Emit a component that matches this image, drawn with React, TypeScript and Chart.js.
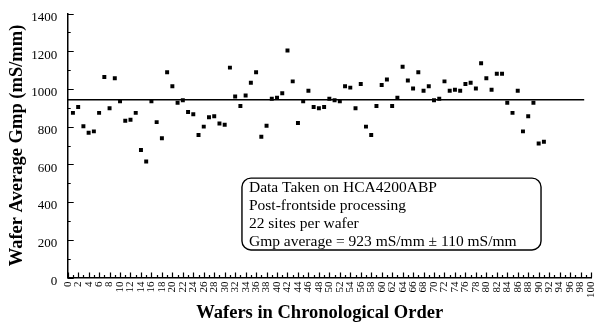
import React, { useEffect, useRef } from "react";
import { Chart, registerables } from "chart.js";

Chart.register(...registerables);

// Wafer numbers (chronological order)
const wafers = [
  1, 2, 3, 4, 5, 6, 7, 8, 9, 10, 11, 12, 13, 14, 15, 16, 17, 18, 19, 20,
  21, 22, 23, 24, 25, 26, 27, 28, 29, 30, 31, 32, 33, 34, 35, 36, 37, 38, 39, 40,
  41, 42, 43, 44, 45, 46, 47, 48, 49, 50, 51, 52, 53, 54, 55, 56, 57, 58, 59, 60,
  61, 62, 63, 64, 65, 66, 67, 68, 69, 70, 71, 72, 73, 74, 75, 76, 77, 78, 79, 80,
  81, 82, 83, 84, 85, 86, 87, 88, 89, 90, 91,
];

// Wafer average Gmp (mS/mm)
const gmp = [
  873, 904, 802, 768, 775, 873, 1063, 897, 1057, 934,
  831, 836, 873, 676, 615, 934, 824, 739, 1089, 1014,
  927, 940, 878, 866, 756, 800, 850, 855, 817, 810,
  1113, 960, 909, 965, 1033, 1089, 746, 805, 948, 953,
  977, 1204, 1040, 819, 934, 990, 904, 897, 904, 948,
  940, 934, 1014, 1007, 897, 1026, 800, 756, 909, 1021,
  1050, 909, 953, 1118, 1045, 1002, 1089, 990, 1014, 940,
  948, 1040, 990, 996, 990, 1026, 1033, 1002, 1136, 1057,
  996, 1081, 1081, 927, 873, 990, 775, 855, 927, 711,
  720,
];

// Average line
const meanLineX = [0, 98.7];
const meanGmp = 942;

const xMin = 0;
const xMax = 100;
const yMin = 0;
const yMax = 1400;
const yStep = 200;

const xTitle = "Wafers in Chronological Order";
const yTitle = "Wafer Average Gmp (mS/mm)";

const noteLines = [
  "Data Taken on HCA4200ABP",
  "Post-frontside processing",
  "22 sites per wafer",
  "Gmp average = 923 mS/mm \u00B1 110 mS/mm",
];
// annotation box extent in data coordinates
const noteBoxX = [33.3, 90.45];
const noteBoxY = [527, 146];

const FONT = "'Liberation Serif', 'Times New Roman', Times, serif";

export default function App() {
  const ref = useRef<HTMLCanvasElement>(null);

  useEffect(() => {
    document.body.style.margin = "0";
    const canvas = ref.current;
    if (!canvas) return;

    const decorPlugin = {
      id: "decor",
      afterDraw(chart: any) {
        const ctx = chart.ctx as CanvasRenderingContext2D;
        const xs = chart.scales.x;
        const ys = chart.scales.y;
        const area = chart.chartArea;
        ctx.save();
        ctx.strokeStyle = "#000";
        ctx.lineWidth = 1.2;
        ctx.beginPath();
        for (let v = xMin; v <= xMax; v++) {
          const px = Math.round(xs.getPixelForValue(v)) + 0.5;
          const len = v % 2 === 0 ? 5 : 2.5;
          ctx.moveTo(px, area.bottom);
          ctx.lineTo(px, area.bottom - len);
        }
        for (let v = yMin; v <= yMax; v += yStep / 2) {
          const py = Math.round(ys.getPixelForValue(v)) + 0.5;
          const len = v % yStep === 0 ? 6 : 3;
          ctx.moveTo(area.left, py);
          ctx.lineTo(area.left + len, py);
        }
        ctx.stroke();

        // annotation box
        const bx0 = xs.getPixelForValue(noteBoxX[0]);
        const bx1 = xs.getPixelForValue(noteBoxX[1]);
        const by0 = ys.getPixelForValue(noteBoxY[0]);
        const by1 = ys.getPixelForValue(noteBoxY[1]);
        ctx.lineWidth = 1.4;
        ctx.beginPath();
        (ctx as any).roundRect(bx0, by0, bx1 - bx0, by1 - by0, 9);
        ctx.stroke();
        ctx.fillStyle = "#000";
        ctx.font = `15.5px ${FONT}`;
        ctx.textAlign = "left";
        ctx.textBaseline = "alphabetic";
        noteLines.forEach((t, i) => {
          ctx.fillText(t, bx0 + 7, by0 + 13.7 + i * 18);
        });

        // x title
        ctx.font = `bold 18.5px ${FONT}`;
        ctx.textAlign = "center";
        ctx.textBaseline = "middle";
        ctx.fillText(xTitle, area.left + (area.right - area.left) * 0.4816, 313);
        ctx.restore();
      },
    };

    const chart = new Chart(canvas, {
      type: "scatter",
      data: {
        datasets: [
          {
            type: "scatter",
            data: wafers.map((w, i) => ({ x: w, y: gmp[i] })),
            pointStyle: "rect",
            pointRadius: 2.8,
            pointBorderWidth: 0,
            borderWidth: 0,
            backgroundColor: "#000",
            borderColor: "#000",
          } as any,
          {
            type: "line",
            data: meanLineX.map((x) => ({ x, y: meanGmp })),
            borderColor: "#000",
            borderWidth: 1.5,
            pointRadius: 0,
            fill: false,
          } as any,
        ],
      },
      options: {
        responsive: false,
        animation: false,
        events: [],
        layout: { padding: { top: 13.5, right: 4, left: 0, bottom: 0 } },
        plugins: {
          legend: { display: false },
          tooltip: { enabled: false },
        },
        scales: {
          x: {
            type: "linear",
            min: xMin,
            max: xMax,
            grid: { display: false, drawTicks: false },
            border: { display: true, color: "#000", width: 1.5 },
            ticks: {
              stepSize: 1,
              autoSkip: false,
              maxRotation: 90,
              minRotation: 90,
              padding: 4,
              color: "#000",
              font: { family: FONT, size: 11 },
              callback: (v: any) => (Number(v) % 2 === 0 ? String(v) : ""),
            },
            title: { display: false },
            afterFit(scale: any) {
              scale.height = 49.5;
              scale.paddingLeft = 0;
              scale.paddingRight = 0;
            },
          },
          y: {
            type: "linear",
            min: yMin,
            max: yMax,
            grid: { display: false, drawTicks: false },
            border: { display: true, color: "#000", width: 1.5 },
            ticks: {
              stepSize: yStep,
              padding: 10.5,
              labelOffset: 4,
              color: "#000",
              font: { family: FONT, size: 13 },
              callback: (v: any) => String(v),
            },
            title: {
              display: true,
              text: yTitle,
              color: "#000",
              font: { family: FONT, size: 18.5, weight: "bold" },
              padding: { top: 6, bottom: 0 },
            },
            afterFit(scale: any) {
              scale.width = 67.7;
              scale.paddingTop = 0;
              scale.paddingBottom = 0;
            },
          },
        },
      },
      plugins: [decorPlugin],
    });

    return () => chart.destroy();
  }, []);

  return (
    <div style={{ position: "absolute", left: 0, top: 0, width: 595, height: 327 }}>
      <canvas ref={ref} width={595} height={327} style={{ width: 595, height: 327 }} />
    </div>
  );
}
